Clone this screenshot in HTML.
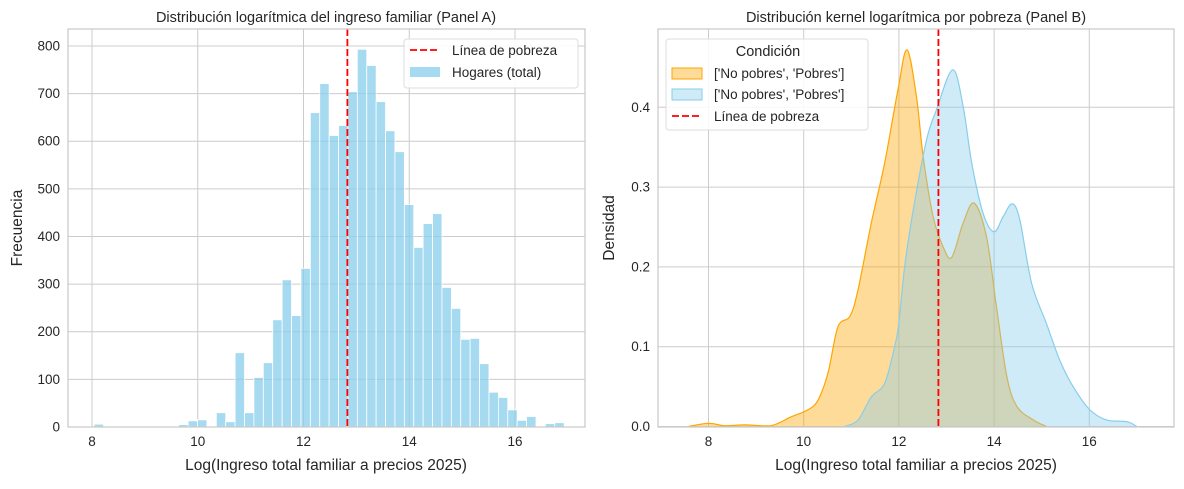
<!DOCTYPE html>
<html><head><meta charset="utf-8"><style>
body{margin:0;background:#fff;font-family:"Liberation Sans","DejaVu Sans",sans-serif;}
svg text{font-family:"Liberation Sans","DejaVu Sans",sans-serif;fill:#262626;}
</style></head><body>
<svg id="chart" width="1184" height="484" xmlns="http://www.w3.org/2000/svg"></svg>
<script>
// Panel A data
const histStart = 8.04;
const histBinWidth = 0.1778;
const histCounts = [6,0,0,1,0,0,0,0,0,5,13,15,0,30,11,156,30,104,135,225,309,234,333,660,721,612,633,704,793,759,683,622,578,467,377,427,448,293,249,184,186,133,73,62,36,14,22,0,7,9];
const povertyLine = 12.83;
const xTicksA = [8,10,12,14,16];
const yTicksA = [0,100,200,300,400,500,600,700,800];
// Panel B data
const kdeOrangeX = [7.58,8.0,8.34,8.76,9.31,9.73,10.09,10.3,10.51,10.72,10.97,11.14,11.42,11.7,11.98,12.17,12.37,12.51,12.72,12.93,13.11,13.35,13.58,13.84,14.05,14.27,14.48,14.83,15.1];
const kdeOrangeY = [0,0.004,0.001,0.002,0.001,0.012,0.021,0.033,0.067,0.125,0.138,0.171,0.255,0.33,0.422,0.472,0.413,0.338,0.263,0.225,0.212,0.255,0.28,0.238,0.15,0.062,0.025,0.008,0];
const kdeBlueX = [10.86,11.14,11.42,11.7,11.91,12.0,12.12,12.3,12.58,12.79,13.13,13.35,13.53,13.77,14.0,14.19,14.38,14.54,14.79,15.1,15.38,15.66,16.01,16.37,16.79,17.0];
const kdeBlueY = [0,0.008,0.037,0.054,0.1,0.13,0.2,0.271,0.359,0.397,0.447,0.401,0.33,0.267,0.244,0.263,0.279,0.259,0.179,0.129,0.083,0.05,0.021,0.008,0.006,0];
const xTicksB = [8,10,12,14,16];
const yTicksB = [0.0,0.1,0.2,0.3,0.4];

const NS="http://www.w3.org/2000/svg";
const svg=document.getElementById('chart');
function mk(tag,attrs,parent){const e=document.createElementNS(NS,tag);for(const k in attrs)e.setAttribute(k,attrs[k]);(parent||svg).appendChild(e);return e;}
function txt(s,attrs){const e=mk('text',attrs);e.textContent=s;return e;}

const ax=v=>92+(v-8)*52.875, ay=v=>427-v*0.4763;
const bx=v=>708.5+(v-8)*47.6, by=v=>426.5-v*798;
const A={l:68,r:585,t:29,b:427}, B={l:658,r:1174,t:29,b:427};

function frameGrid(P,xt,xs,yt,ys,fmt,pfx){
  for(const t of xt){const g=mk('line',{x1:xs(t),x2:xs(t),y1:P.t,y2:P.b,stroke:'#cccccc','stroke-width':1});
    
    const l=txt(String(t),{x:xs(t),y:P.b+19,'text-anchor':'middle','font-size':13.5});
    }
  for(const t of yt){const g=mk('line',{x1:P.l,x2:P.r,y1:ys(t),y2:ys(t),stroke:'#cccccc','stroke-width':1});
    
    const l=txt(fmt(t),{x:P.l-8,y:ys(t)+4.5,'text-anchor':'end','font-size':13.5});
    }
}
function frame(P,pfx){const r=mk('rect',{x:P.l,y:P.t,width:P.r-P.l,height:P.b-P.t,fill:'none',stroke:'#cccccc','stroke-width':1.3});
  }

frameGrid(A,xTicksA,ax,yTicksA,ay,v=>String(v),'panel-a');
histCounts.forEach((c,i)=>{
  const x0=ax(histStart+i*histBinWidth),x1=ax(histStart+(i+1)*histBinWidth);
  const r=mk('rect',{x:x0,y:ay(c),width:x1-x0,height:ay(0)-ay(c),fill:'rgba(135,206,235,0.75)',stroke:'#fff','stroke-width':0.8});
  
  
});
const plA=mk('line',{x1:ax(povertyLine),x2:ax(povertyLine),y1:A.t,y2:A.b,stroke:'#ff0000','stroke-width':1.8,'stroke-dasharray':'7,3'});

frame(A,'panel-a');

frameGrid(B,xTicksB,bx,yTicksB,by,v=>v.toFixed(1),'panel-b');
function smooth(xs,ys,fx,fy){
  const p=xs.map((x,i)=>[fx(x),fy(ys[i])]);let d='M'+p[0][0]+','+p[0][1];
  for(let i=0;i<p.length-1;i++){const p0=p[i-1]||p[i],p1=p[i],p2=p[i+1],p3=p[i+2]||p2;
    const c1=[p1[0]+(p2[0]-p0[0])/6,p1[1]+(p2[1]-p0[1])/6],c2=[p2[0]-(p3[0]-p1[0])/6,p2[1]-(p3[1]-p1[1])/6];
    d+=` C${c1[0]},${Math.min(c1[1],fy(0))} ${c2[0]},${Math.min(c2[1],fy(0))} ${p2[0]},${p2[1]}`;}
  return d;}
function kde(xs,ys,fill,stroke,name){
  const d=smooth(xs,ys,bx,by);
  const f=mk('path',{d:d+` L${bx(xs[xs.length-1])},${by(0)} L${bx(xs[0])},${by(0)} Z`,fill:fill,stroke:'none'});
  
  const l=mk('path',{d:d,fill:'none',stroke:stroke,'stroke-width':1.2});
  
}
kde(kdeOrangeX,kdeOrangeY,'rgba(255,165,0,0.4)','#ffa500','kde-orange');
kde(kdeBlueX,kdeBlueY,'rgba(135,206,235,0.4)','#87ceeb','kde-blue');
const plB=mk('line',{x1:bx(povertyLine),x2:bx(povertyLine),y1:B.t,y2:B.b,stroke:'#ff0000','stroke-width':1.8,'stroke-dasharray':'7,3'});

frame(B,'panel-b');
</script>
<svg width="1184" height="484" style="position:absolute;left:0;top:0" xmlns="http://www.w3.org/2000/svg">
  <text x="326" y="22" text-anchor="middle" font-size="14.5">Distribución logarítmica del ingreso familiar (Panel A)</text>
  <text x="916" y="22" text-anchor="middle" font-size="14.5">Distribución kernel logarítmica por pobreza (Panel B)</text>
  <text x="326" y="470" text-anchor="middle" font-size="15.5">Log(Ingreso total familiar a precios 2025)</text>
  <text x="916" y="470" text-anchor="middle" font-size="15.5">Log(Ingreso total familiar a precios 2025)</text>
  <text transform="translate(22,228) rotate(-90)" text-anchor="middle" font-size="15.5">Frecuencia</text>
  <text transform="translate(614,228) rotate(-90)" text-anchor="middle" font-size="15.5">Densidad</text>
  <g>
    <rect x="404" y="39" width="174" height="49" rx="3" fill="rgba(255,255,255,0.85)" stroke="#dddddd"/>
    <line x1="410" y1="50" x2="440" y2="50" stroke="#ff0000" stroke-width="1.8" stroke-dasharray="7,3"/>
    <text x="452" y="55" font-size="13.5">Línea de pobreza</text>
    <rect x="410" y="67" width="30" height="10" fill="rgba(135,206,235,0.75)"/>
    <text x="452" y="77" font-size="13.5">Hogares (total)</text>
  </g>
  <g>
    <rect x="666" y="39" width="202" height="91" rx="3" fill="rgba(255,255,255,0.85)" stroke="#dddddd"/>
    <text x="768" y="56" text-anchor="middle" font-size="14.5">Condición</text>
    <rect x="672" y="68" width="30" height="11" fill="rgba(255,165,0,0.4)" stroke="#ffa500"/>
    <text x="714" y="78" font-size="13.5">['No pobres', 'Pobres']</text>
    <rect x="672" y="89" width="30" height="11" fill="rgba(135,206,235,0.4)" stroke="#87ceeb"/>
    <text x="714" y="99" font-size="13.5">['No pobres', 'Pobres']</text>
    <line x1="672" y1="116" x2="702" y2="116" stroke="#ff0000" stroke-width="1.8" stroke-dasharray="7,3"/>
    <text x="714" y="121" font-size="13.5">Línea de pobreza</text>
  </g>
</svg>
</body></html>
